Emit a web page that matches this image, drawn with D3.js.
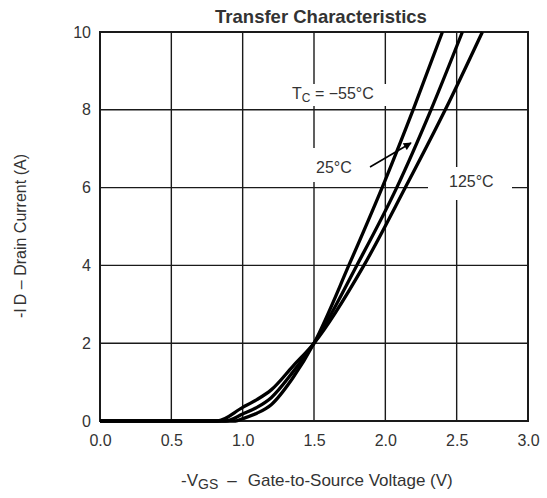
<!DOCTYPE html>
<html>
<head>
<meta charset="utf-8">
<script src="https://cdn.jsdelivr.net/npm/d3@7"></script>
<style>
  html, body { margin: 0; padding: 0; background: #fff; }
  svg { display: block; font-family: "Liberation Sans", Arial, sans-serif; }
</style>
</head>
<body>
<svg id="chart" width="547" height="498"></svg>
<script>
// Gate-to-source voltage (V) and drain current (A) for each case temperature
const vgsM55 = [0, 0.95, 1.0, 1.1, 1.2, 1.35, 1.5, 1.75, 2.0, 2.2, 2.4];
const idM55  = [0, 0,    0.06, 0.2, 0.42, 1.1, 2.0, 4.05, 6.2, 8.05, 10];
const vgs25  = [0, 0.88, 1.0, 1.1, 1.2, 1.35, 1.5, 1.8, 2.08, 2.32, 2.54];
const id25   = [0, 0,    0.18, 0.35, 0.6, 1.25, 2.0, 4.0, 6.0, 8.0, 10];
const vgs125 = [0, 0.82, 1.0, 1.1, 1.2, 1.35, 1.5, 1.85, 2.14, 2.42, 2.68];
const id125  = [0, 0,    0.35, 0.55, 0.8, 1.4, 2.0, 4.0, 6.0, 8.0, 10];

const xTicks = [0, 0.5, 1.0, 1.5, 2.0, 2.5, 3.0];
const yTicks = [0, 2, 4, 6, 8, 10];

const svg = d3.select("#chart");
const plotL = 100, plotR = 528, plotT = 32, plotB = 421;

const x = d3.scaleLinear().domain([0, 3]).range([plotL, plotR]);
const y = d3.scaleLinear().domain([0, 10]).range([plotB, plotT]);

const ink = "#1a1a1a";
const textCol = "#333";
const fs = 16;

// grid
const grid = svg.append("g");
grid.selectAll(".vg").data(xTicks).join("line")
  .attr("x1", d => x(d)).attr("x2", d => x(d))
  .attr("y1", plotT).attr("y2", plotB)
  .attr("stroke", ink).attr("stroke-width", 1.4);
grid.selectAll(".hg").data(yTicks).join("line")
  .attr("x1", plotL).attr("x2", plotR)
  .attr("y1", d => y(d)).attr("y2", d => y(d))
  .attr("stroke", ink).attr("stroke-width", 1.4);

// label backgrounds that break the grid
const bgs = [
  [289, 84, 100, 22],
  [304, 148, 58, 34],
  [428, 167, 84, 33]
];
svg.append("g").selectAll("rect").data(bgs).join("rect")
  .attr("x", d => d[0]).attr("y", d => d[1])
  .attr("width", d => d[2]).attr("height", d => d[3])
  .attr("fill", "#fff");

// frame
svg.append("rect")
  .attr("x", plotL).attr("y", plotT)
  .attr("width", plotR - plotL).attr("height", plotB - plotT)
  .attr("fill", "none").attr("stroke", ink).attr("stroke-width", 2);

// axes (labels only)
const xAxis = d3.axisBottom(x).tickValues(xTicks).tickFormat(d3.format(".1f")).tickSize(0).tickPadding(14);
const gx = svg.append("g").attr("transform", `translate(0,${plotB})`).call(xAxis);
gx.select(".domain").remove();
gx.selectAll("text").attr("font-size", fs).attr("fill", textCol)
  .attr("font-family", "Liberation Sans, Arial, sans-serif");

const yAxis = d3.axisLeft(y).tickValues(yTicks).tickFormat(d3.format("d")).tickSize(0).tickPadding(9);
const gy = svg.append("g").attr("transform", `translate(${plotL},0)`).call(yAxis);
gy.select(".domain").remove();
gy.selectAll("text").attr("font-size", fs).attr("fill", textCol)
  .attr("font-family", "Liberation Sans, Arial, sans-serif");

// curves
const line = d3.line().x(d => x(d[0])).y(d => y(d[1])).curve(d3.curveMonotoneX);
const series = [
  d3.zip(vgsM55, idM55),
  d3.zip(vgs25, id25),
  d3.zip(vgs125, id125)
];
svg.append("g").selectAll("path").data(series).join("path")
  .attr("d", line)
  .attr("fill", "none").attr("stroke", "#000").attr("stroke-width", 3.3)
  .attr("stroke-linejoin", "round");

// title
svg.append("text").attr("x", 321).attr("y", 23).attr("text-anchor", "middle")
  .attr("font-size", 18.5).attr("font-weight", "bold").attr("fill", textCol)
  .text("Transfer Characteristics");

// temperature labels
const t1 = svg.append("text").attr("x", 292).attr("y", 99).attr("font-size", fs).attr("fill", textCol);
t1.append("tspan").text("T");
t1.append("tspan").attr("dy", 3).attr("font-size", 12).text("C");
t1.append("tspan").attr("dy", -3).text(" = \u221255\u00b0C");

svg.append("text").attr("x", 316).attr("y", 173).attr("font-size", fs).attr("fill", textCol).text("25\u00b0C");
svg.append("text").attr("x", 449).attr("y", 187).attr("font-size", fs).attr("fill", textCol).text("125\u00b0C");

// arrow to the 25°C curve
svg.append("defs").append("marker")
  .attr("id", "ah").attr("viewBox", "0 0 10 10").attr("refX", 9).attr("refY", 5)
  .attr("markerWidth", 6).attr("markerHeight", 5).attr("orient", "auto")
  .append("path").attr("d", "M0,0 L10,5 L0,10 Z").attr("fill", "#000");
svg.append("line").attr("x1", 370).attr("y1", 167).attr("x2", 411).attr("y2", 143)
  .attr("stroke", "#000").attr("stroke-width", 1.6).attr("marker-end", "url(#ah)");

// axis titles
const xt = svg.append("text").attr("x", 181).attr("y", 486)
  .attr("font-size", 17).attr("fill", textCol);
xt.append("tspan").text("-V");
xt.append("tspan").attr("dy", 3).attr("font-size", 14).text("GS");
xt.append("tspan").attr("dy", -3).attr("dx", 9).text("\u2013");
xt.append("tspan").attr("dx", 11).text("Gate-to-Source Voltage (V)");

const yt = svg.append("text").attr("transform", "translate(26,236) rotate(-90)")
  .attr("text-anchor", "middle").attr("font-size", fs).attr("fill", textCol);
yt.append("tspan").text("-I");
yt.append("tspan").attr("dx", 3).text("D");
yt.append("tspan").text("  \u2013  Drain Current (A)");
</script>
</body>
</html>
